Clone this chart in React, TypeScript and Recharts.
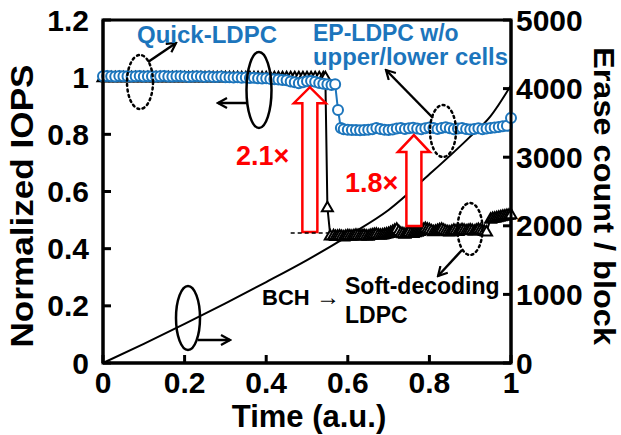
import React from "react";
import { ComposedChart, Line, XAxis, YAxis } from "recharts";

const W = 621;
const H = 435;
const M = { top: 20, left: 103, right: 110, bottom: 72 };
const PL = M.left;
const PR = W - M.right;
const PT = M.top;
const PB = H - M.bottom;
const FONT = "'Liberation Sans', Arial, sans-serif";
const BLUE = "#1c75bc";
const RED = "#ff0000";

const timeTicks = [0, 0.2, 0.4, 0.6, 0.8, 1];
const iopsTicks = [0, 0.2, 0.4, 0.6, 0.8, 1, 1.2];
const eraseTicks = [0, 1000, 2000, 3000, 4000, 5000];

// Quick-LDPC / EP-LDPC (blue circles)
const quickTime = [
  0, 0.01, 0.02, 0.03, 0.04, 0.05, 0.06, 0.07, 0.08, 0.09,
  0.1, 0.11, 0.12, 0.13, 0.14, 0.15, 0.16, 0.17, 0.18, 0.19,
  0.2, 0.21, 0.22, 0.23, 0.24, 0.25, 0.26, 0.27, 0.28, 0.29,
  0.3, 0.31, 0.32, 0.33, 0.34, 0.35, 0.36, 0.37, 0.38, 0.39,
  0.4, 0.41, 0.42, 0.43, 0.44, 0.45, 0.46, 0.47, 0.48, 0.49,
  0.5, 0.51, 0.52, 0.53, 0.54, 0.55, 0.56, 0.569, 0.576, 0.583,
  0.59, 0.6, 0.61, 0.62, 0.63, 0.64, 0.65, 0.66, 0.67, 0.68,
  0.69, 0.7, 0.71, 0.72, 0.73, 0.74, 0.75, 0.76, 0.77, 0.78,
  0.79, 0.8, 0.81, 0.82, 0.83, 0.84, 0.85, 0.86, 0.87, 0.88,
  0.89, 0.9, 0.91, 0.92, 0.93, 0.94, 0.95, 0.96, 0.97, 0.98,
  0.99, 1,
];
const quickIops = [
  1.003, 1.004, 1.003, 1.002, 1.004, 1.003, 1.003, 1.002, 1.003, 1.004,
  1.002, 1.003, 1.003, 1.002, 1.003, 1.004, 1.002, 1.002, 1.003, 1.003,
  1.002, 1.001, 1.002, 1.003, 1.002, 1.001, 1.002, 1.001, 1.001, 1.002,
  1.0, 1.0, 0.999, 1.0, 0.998, 0.999, 0.997, 0.998, 0.996, 0.995,
  0.996, 0.994, 0.993, 0.992, 0.99, 0.989, 0.985, 0.982, 0.979, 0.982,
  0.986, 0.987, 0.984, 0.98, 0.977, 0.975, 0.973, 0.975, 0.885, 0.822,
  0.818, 0.816, 0.815, 0.815, 0.814, 0.815, 0.816, 0.818, 0.822, 0.819,
  0.816, 0.815, 0.817, 0.82, 0.822, 0.819, 0.821, 0.823, 0.82, 0.818,
  0.821, 0.824, 0.822, 0.819, 0.822, 0.825, 0.821, 0.818, 0.82, 0.822,
  0.819, 0.817, 0.819, 0.821, 0.818, 0.82, 0.822, 0.824, 0.826, 0.828,
  0.83, 0.857,
];

// BCH -> Soft-decoding LDPC (black triangles)
const softTime = [
  0, 0.01, 0.02, 0.03, 0.04, 0.05, 0.06, 0.07, 0.08, 0.09,
  0.1, 0.11, 0.12, 0.13, 0.14, 0.15, 0.16, 0.17, 0.18, 0.19,
  0.2, 0.21, 0.22, 0.23, 0.24, 0.25, 0.26, 0.27, 0.28, 0.29,
  0.3, 0.31, 0.32, 0.33, 0.34, 0.35, 0.36, 0.37, 0.38, 0.39,
  0.4, 0.41, 0.42, 0.43, 0.44, 0.45, 0.46, 0.47, 0.48, 0.49,
  0.5, 0.51, 0.52, 0.53, 0.54, 0.545, 0.55, 0.557,
  0.565, 0.57, 0.575, 0.58, 0.585, 0.59, 0.595, 0.6, 0.605, 0.61,
  0.615, 0.62, 0.625, 0.63, 0.635, 0.64, 0.645, 0.65, 0.655, 0.66,
  0.665, 0.67, 0.675, 0.68, 0.685, 0.69, 0.695, 0.7, 0.705, 0.71,
  0.715, 0.72, 0.725, 0.73, 0.735, 0.74, 0.745, 0.75, 0.755, 0.76,
  0.765, 0.77, 0.775, 0.78, 0.785, 0.79, 0.795, 0.8, 0.805, 0.81,
  0.815, 0.82, 0.825, 0.83, 0.835, 0.84, 0.845, 0.85, 0.855, 0.86,
  0.865, 0.87, 0.875, 0.88, 0.885, 0.89, 0.895, 0.9, 0.905, 0.91,
  0.915, 0.92, 0.925, 0.93, 0.935, 0.94,
  0.95, 0.955, 0.96, 0.965, 0.97, 0.975, 0.98, 0.985, 0.99, 0.995, 1,
];
const softIops = [
  1, 1, 1, 1, 1, 1, 1, 1, 1, 1,
  1, 1, 1, 1, 1, 1, 1, 1, 1, 1,
  1, 1, 1, 1, 1, 1, 1, 1, 1, 1,
  1, 1, 1, 1, 1, 1, 1, 1, 1, 1,
  1, 1, 1, 1, 1, 1, 1, 1, 1, 1,
  1, 1, 1, 1, 1, 1, 0.545, 0.446,
  0.447, 0.444, 0.445, 0.446, 0.444, 0.443, 0.445, 0.447, 0.446, 0.445,
  0.447, 0.449, 0.448, 0.446, 0.447, 0.448, 0.446, 0.445, 0.448, 0.45,
  0.451, 0.452, 0.45, 0.449, 0.45, 0.451, 0.453, 0.455, 0.458, 0.462,
  0.466, 0.47, 0.462, 0.456, 0.454, 0.452, 0.455, 0.458, 0.456, 0.455,
  0.457, 0.459, 0.462, 0.466, 0.469, 0.472, 0.47, 0.468, 0.464, 0.461,
  0.463, 0.465, 0.468, 0.47, 0.466, 0.463, 0.461, 0.46, 0.463, 0.466,
  0.464, 0.462, 0.465, 0.468, 0.466, 0.464, 0.465, 0.467, 0.465, 0.463,
  0.466, 0.469, 0.467, 0.465, 0.462, 0.46,
  0.505, 0.507, 0.508, 0.51, 0.512, 0.513, 0.515, 0.516, 0.518, 0.519, 0.52,
];

// Erase count / block (right axis)
const eraseTime = [0, 0.1, 0.2, 0.3, 0.4, 0.5, 0.6, 0.7, 0.8, 0.9, 0.95, 1];
const eraseCount = [0, 280, 570, 870, 1180, 1500, 1850, 2230, 2750, 3300, 3600, 4050];

const quickData = quickTime.map((t, i) => ({ t, v: quickIops[i] }));
const softData = softTime.map((t, i) => ({ t, v: softIops[i] }));
const eraseData = eraseTime.map((t, i) => ({ t, e: eraseCount[i] }));

// pixel helpers for the annotation layer
const px = (t: number) => PL + t * (PR - PL);
const py = (v: number) => PB - (v / 1.2) * (PB - PT);

const tickStyle = { fill: "#000", fontSize: 30, fontWeight: 700, fontFamily: FONT };

function Triangle(props: any) {
  const { cx, cy, index } = props;
  if (cx == null || cy == null) return <g key={`tri-${index}`} />;
  return (
    <path
      key={`tri-${index}`}
      d={`M${cx},${cy - 5.5} L${cx + 5.5},${cy + 4} L${cx - 5.5},${cy + 4} Z`}
      fill="#fff"
      stroke="#000"
      strokeWidth={2}
    />
  );
}

function HollowArrow({ t, tip, base, bottom }: { t: number; tip: number; base: number; bottom: number }) {
  const cx = px(t);
  const sh = 7.5;
  const hh = 16;
  const yt = py(tip);
  const yb = py(base);
  const y0 = py(bottom);
  return (
    <path
      d={`M${cx - sh},${y0} L${cx - sh},${yb} L${cx - hh},${yb} L${cx},${yt} L${cx + hh},${yb} L${cx + sh},${yb} L${cx + sh},${y0} Z`}
      fill="#fff"
      stroke={RED}
      strokeWidth={2.5}
      strokeLinejoin="miter"
    />
  );
}

function Annotations() {
  const dotted = { fill: "none", stroke: "#000", strokeWidth: 2.5, strokeDasharray: "2 3.5", strokeLinecap: "round" as const };
  const solid = { fill: "none", stroke: "#000", strokeWidth: 2.5 };
  const arrow = { stroke: "#000", strokeWidth: 2.5, markerEnd: "url(#openHead)" };
  return (
    <svg width={W} height={H} style={{ position: "absolute", left: 0, top: 0, pointerEvents: "none" }}>
      <defs>
        <marker id="openHead" viewBox="0 0 12 12" refX="10" refY="6" markerWidth="12" markerHeight="12" markerUnits="userSpaceOnUse" orient="auto">
          <path d="M1,1 L10,6 L1,11" fill="none" stroke="#000" strokeWidth="2.2" />
        </marker>
      </defs>
      <rect x={PL} y={PT} width={PR - PL} height={PB - PT} fill="none" stroke="#000" strokeWidth={3} />

      <HollowArrow t={0.507} tip={0.965} base={0.909} bottom={0.458} />
      <HollowArrow t={0.762} tip={0.797} base={0.738} bottom={0.479} />
      <line x1={px(0.46)} y1={py(0.455)} x2={px(0.555)} y2={py(0.455)} stroke="#000" strokeWidth={1.5} strokeDasharray="4 3" />

      <ellipse cx={140} cy={82} rx={13} ry={27} {...dotted} />
      <ellipse cx={443} cy={131} rx={13} ry={26} {...dotted} />
      <ellipse cx={470} cy={229} rx={12.5} ry={26} {...dotted} />
      <ellipse cx={259} cy={90} rx={12.5} ry={38} {...solid} />
      <ellipse cx={188} cy={318} rx={12} ry={32} {...solid} />

      <line x1={148} y1={62} x2={176} y2={43} {...arrow} />
      <line x1={433} y1={118} x2={386} y2={70} {...arrow} />
      <line x1={462} y1={250} x2={438} y2={276} {...arrow} />
      <line x1={247} y1={103} x2={218} y2={103} {...arrow} />
      <line x1={198} y1={340} x2={230} y2={340} {...arrow} />

      <g fontFamily={FONT} fontWeight={700}>
        <text x={137} y={43} fontSize={24} fill={BLUE}>Quick-LDPC</text>
        <text x={313} y={41} fontSize={23} fill={BLUE}>EP-LDPC w/o</text>
        <text x={313} y={65} fontSize={23} textLength={195} lengthAdjust="spacingAndGlyphs" fill={BLUE}>upper/lower cells</text>
        <text x={236} y={165} fontSize={27} fill={RED}>2.1×</text>
        <text x={345} y={192} fontSize={27} fill={RED}>1.8×</text>
        <text x={262} y={305} fontSize={22} fill="#000">BCH</text>
        <text x={316} y={305} fontSize={24} fontWeight={400} fill="#000">→</text>
        <text x={345} y={294} fontSize={23} fill="#000">Soft-decoding</text>
        <text x={345} y={323} fontSize={23} fill="#000">LDPC</text>

        <text transform="translate(33,206) rotate(-90)" textAnchor="middle" fontSize={31} textLength={283} lengthAdjust="spacingAndGlyphs" fill="#000">
          Normalized IOPS
        </text>
        <text transform="translate(594,196) rotate(90)" textAnchor="middle" fontSize={30} textLength={298} lengthAdjust="spacingAndGlyphs" fill="#000">
          Erase count / block
        </text>
        <text x={309} y={427} textAnchor="middle" fontSize={31} fill="#000">Time (a.u.)</text>
      </g>
    </svg>
  );
}

export default function App() {
  return (
    <div style={{ position: "absolute", left: 0, top: 0, width: W, height: H, background: "#fff" }}>
      <ComposedChart width={W} height={H} margin={{ top: M.top, right: 0, bottom: 0, left: 0 }}>
        <XAxis
          type="number"
          dataKey="t"
          domain={[0, 1]}
          ticks={timeTicks}
          interval={0}
          height={M.bottom}
          tick={tickStyle}
          tickSize={-8}
          tickMargin={17}
          axisLine={{ stroke: "#000", strokeWidth: 3 }}
          tickLine={{ stroke: "#000", strokeWidth: 3 }}
        />
        <YAxis
          yAxisId="iops"
          type="number"
          domain={[0, 1.2]}
          ticks={iopsTicks}
          interval={0}
          width={M.left}
          tick={tickStyle}
          tickSize={-8}
          tickMargin={22}
          axisLine={{ stroke: "#000", strokeWidth: 3 }}
          tickLine={{ stroke: "#000", strokeWidth: 3 }}
        />
        <YAxis
          yAxisId="erase"
          orientation="right"
          type="number"
          domain={[0, 5000]}
          ticks={eraseTicks}
          interval={0}
          width={M.right}
          tick={{ ...tickStyle, textAnchor: "start" }}
          tickSize={-8}
          tickMargin={13}
          axisLine={{ stroke: "#000", strokeWidth: 3 }}
          tickLine={{ stroke: "#000", strokeWidth: 3 }}
        />
        <Line
          yAxisId="erase"
          data={eraseData}
          dataKey="e"
          type="monotone"
          stroke="#000"
          strokeWidth={2}
          dot={false}
          activeDot={false}
          isAnimationActive={false}
        />
        <Line
          yAxisId="iops"
          data={softData}
          dataKey="v"
          type="linear"
          stroke="#000"
          strokeWidth={2}
          dot={<Triangle />}
          activeDot={false}
          isAnimationActive={false}
        />
        <Line
          yAxisId="iops"
          data={quickData}
          dataKey="v"
          type="linear"
          stroke={BLUE}
          strokeWidth={2}
          dot={{ r: 5, fill: "#fff", stroke: BLUE, strokeWidth: 2 }}
          activeDot={false}
          isAnimationActive={false}
        />
      </ComposedChart>
      <Annotations />
    </div>
  );
}
